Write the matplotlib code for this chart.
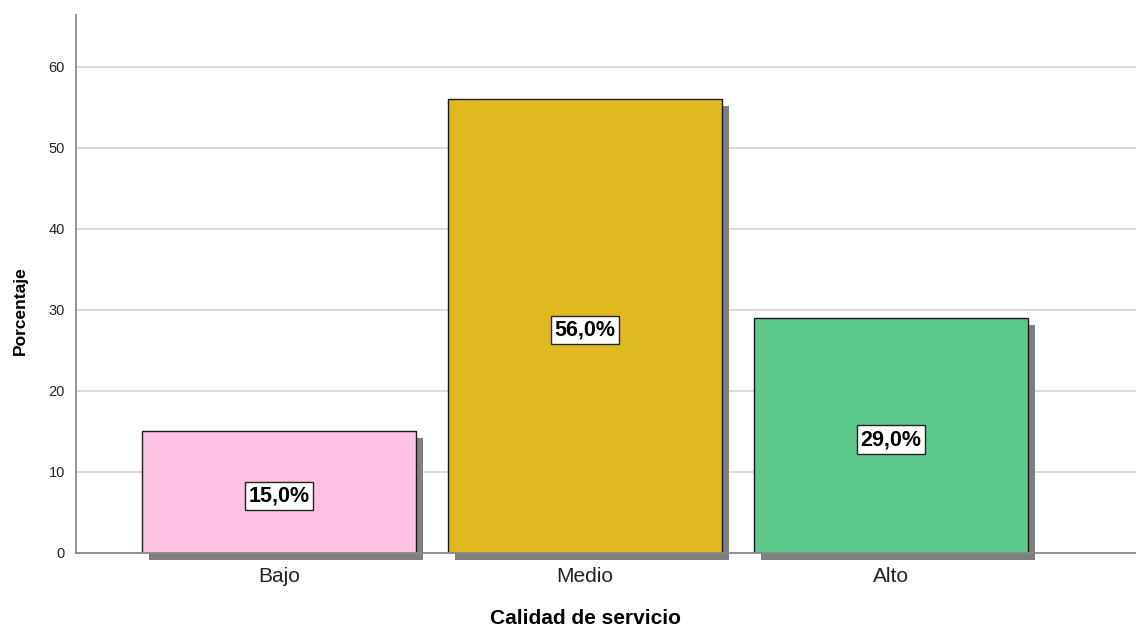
import matplotlib
matplotlib.use("Agg")
import matplotlib.pyplot as plt
from matplotlib.transforms import ScaledTranslation

categories = ["Bajo", "Medio", "Alto"]
values = [15.0, 56.0, 29.0]
labels = ["15,0%", "56,0%", "29,0%"]
colors = ["#FEC1E1", "#DFB91F", "#5DC98B"]
yticks = [0, 10, 20, 30, 40, 50, 60]

plt.rcParams['font.family'] = ['Liberation Sans', 'DejaVu Sans']

fig = plt.figure(figsize=(11.36, 6.28), dpi=100)
ax = fig.add_axes([76/1136, 75/628, 1 - 76/1136, (553-15)/628])

x = list(range(len(categories)))
width = 0.895

shadow_tr = ax.transData + ScaledTranslation(7/100, -7/100, fig.dpi_scale_trans)
ax.bar(x, values, width=width, color="#7f7f7f", edgecolor="none",
       transform=shadow_tr, zorder=1, clip_on=False)
bars = ax.bar(x, values, width=width, color=colors, edgecolor="#1a1a1a",
              linewidth=1.0, zorder=2)

label_tr = ax.transData + ScaledTranslation(0, -4/100, fig.dpi_scale_trans)
for xi, v, lab in zip(x, values, labels):
    ax.text(xi, v / 2, lab, ha="center", va="center", fontsize=15.5,
            fontweight="bold", color="black", zorder=3, transform=label_tr,
            bbox=dict(boxstyle="square,pad=0.17", fc="white", ec="#222222", lw=1.0))

ax.set_xlim(-0.663, 2.801)
ax.set_ylim(0, 66.4)
ax.set_yticks(yticks)
ax.set_yticklabels([str(t) for t in yticks], fontsize=10.5, color="#222222")
ax.set_xticks(x)
ax.set_xticklabels(categories, fontsize=15, color="#222222")
ax.tick_params(axis="y", length=0, pad=8)
ax.tick_params(axis="x", length=0, pad=10)

ax.yaxis.grid(True, color="#d4d4d4", linewidth=1.2, zorder=0)
ax.set_axisbelow(True)
for s in ["top", "right"]:
    ax.spines[s].set_visible(False)
for s in ["left", "bottom"]:
    ax.spines[s].set_color("#8a8a8a")
    ax.spines[s].set_linewidth(1.3)

fig.text(585/1136, 1 - 618/628, "Calidad de servicio", ha="center", va="center",
         fontsize=15, fontweight="bold")
fig.text(20/1136, 1 - 311/628, "Porcentaje", rotation=90, ha="center", va="center",
         fontsize=12.5, fontweight="bold")

fig.savefig("out.png", dpi=100)
